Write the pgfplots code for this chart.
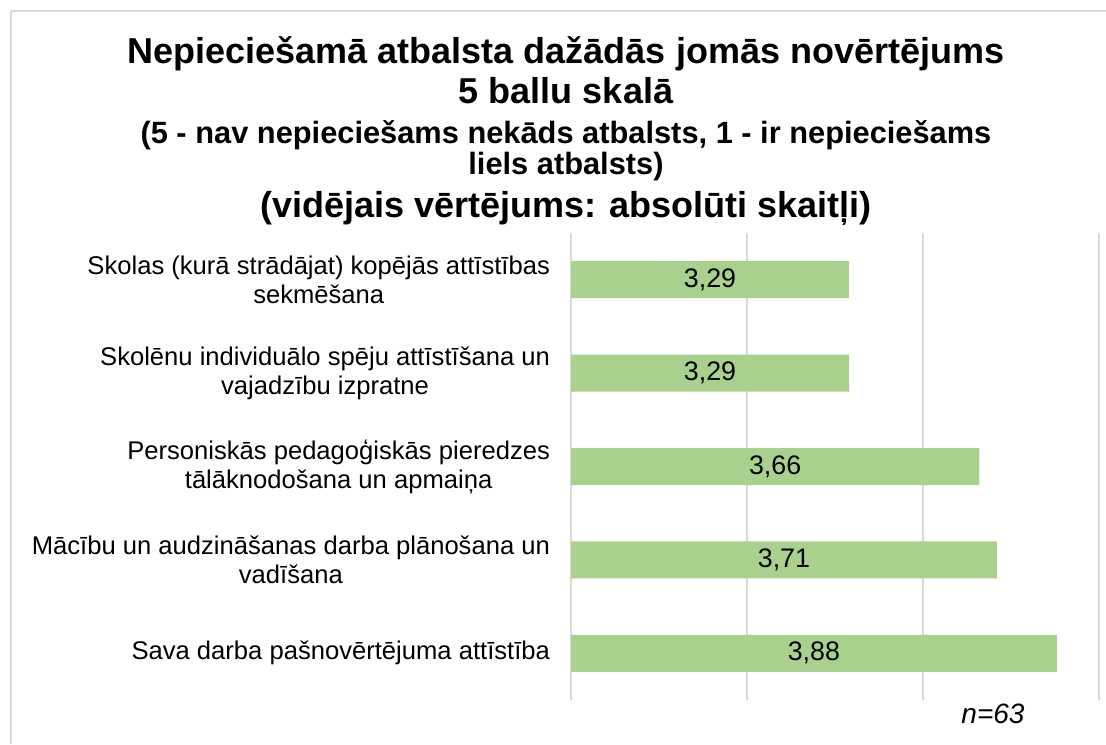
\documentclass[border=0pt]{standalone}
\usepackage{fontspec}
\setmainfont{Liberation Sans}
\usepackage{pgfplots}
\pgfplotsset{compat=1.18}
\definecolor{barg}{HTML}{A9D18E}
\definecolor{gridg}{HTML}{D9D9D9}
\begin{document}
\begin{tikzpicture}[x=0.5pt,y=-0.5pt]
\useasboundingbox (0,0) rectangle (1106,744);
\draw[gridg, line width=0.75pt] (11,744) -- (11,11) -- (1106,11);
\node[font=\fontsize{18}{21}\selectfont\bfseries, anchor=base] at (566,63) {Nepieciešamā atbalsta dažādās jomās novērtējums};
\node[font=\fontsize{18}{21}\selectfont\bfseries, anchor=base] at (566,103) {5 ballu skalā};
\node[font=\fontsize{15.4}{18}\selectfont\bfseries, anchor=base] at (566,143) {(5 - nav nepieciešams nekāds atbalsts, 1 - ir nepieciešams};
\node[font=\fontsize{15.4}{18}\selectfont\bfseries, anchor=base] at (566,174) {liels atbalsts)};
\node[font=\fontsize{18}{21}\selectfont\bfseries, anchor=base] at (566,217) {(vidējais vērtējums: absolūti skaitļi)};
\node[font=\fontsize{14}{16}\selectfont\itshape, anchor=base] at (993,723) {n=63};
\begin{axis}[
  at={(285.5pt,-350pt)}, anchor=south west,
  width=264pt, height=233.5pt, scale only axis,
  xbar, xmin=2.5, xmax=4, ymin=-0.5, ymax=4.5, y dir=reverse,
  bar width=18.5pt,
  xtick={2.5,3,3.5,4}, xticklabels={},
  xmajorgrids, grid style={gridg, line width=0.75pt},
  axis line style={draw=none},
  major tick length=0pt,
  ytick={0,1,2,3,4},
  yticklabels={{Skolas (kurā strādājat) kopējās attīstības\\sekmēšana},
               {Skolēnu individuālo spēju attīstīšana un\\vajadzību izpratne},
               {Personiskās pedagoģiskās pieredzes\\tālāknodošana un apmaiņa},
               {Mācību un audzināšanas darba plānošana un\\vadīšana},
               {Sava darba pašnovērtējuma attīstība}},
  yticklabel style={font=\fontsize{12.8}{14.5}\selectfont, align=center, text=black, xshift=-7pt},
  visualization depends on={x \as \rawx},
  nodes near coords={\pgfmathprintnumber[use comma,fixed,precision=2,fixed zerofill,assume math mode=true]{\pgfplotspointmeta}},
  every node near coord/.append style={anchor=center, font=\fontsize{13.4}{15}\selectfont, text=black,
     shift={(axis direction cs:{-(\rawx-2.5)/2},0)}},
]
\addplot[fill=barg, draw=none] coordinates {(3.29,0) (3.29,1) (3.66,2) (3.71,3) (3.88,4)};
\end{axis}
\end{tikzpicture}
\end{document}
